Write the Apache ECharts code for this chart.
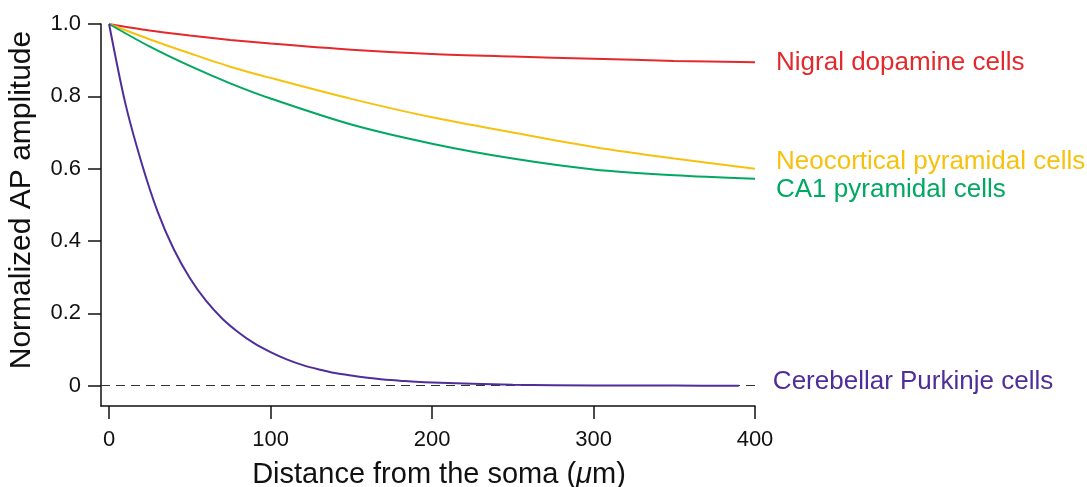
<!DOCTYPE html>
<html>
<head>
<meta charset="utf-8">
<script src="https://cdn.jsdelivr.net/npm/echarts@6/dist/echarts.min.js"></script>
<style>
html,body{margin:0;padding:0;background:#fff;}
#chart{width:1087px;height:487px;}
</style>
</head>
<body>
<div id="chart"></div>
<script>
// ---- data ----
var xTicks = [0, 100, 200, 300, 400];
var yTicks = [0, 0.2, 0.4, 0.6, 0.8, 1.0];

var nigralX = [0, 25, 50, 75, 100, 150, 200, 250, 300, 350, 400];
var nigralY = [1.0, 0.982, 0.968, 0.956, 0.946, 0.929, 0.917, 0.910, 0.904, 0.898, 0.894];

var neoX = [0, 25, 50, 75, 100, 150, 200, 250, 300, 350, 400];
var neoY = [1.0, 0.958, 0.919, 0.882, 0.851, 0.793, 0.742, 0.700, 0.660, 0.628, 0.600];

var ca1X = [0, 25, 50, 75, 100, 150, 200, 250, 300, 350, 400];
var ca1Y = [1.0, 0.938, 0.884, 0.836, 0.794, 0.722, 0.669, 0.628, 0.598, 0.582, 0.572];

var purkX = [0, 10, 20, 30, 40, 50, 60, 70, 80, 90, 100, 110, 120, 130, 140, 150, 160, 170, 180, 190, 200, 250, 300, 350, 390];
var purkY = [1.0, 0.782, 0.618, 0.482, 0.378, 0.298, 0.235, 0.186, 0.148, 0.117, 0.093, 0.073, 0.057, 0.045, 0.035, 0.028, 0.022, 0.017, 0.014, 0.011, 0.009, 0.003, 0.001, 0.0004, 0.0];

var names = ['Nigral dopamine cells', 'Neocortical pyramidal cells', 'CA1 pyramidal cells', 'Cerebellar Purkinje cells'];
var colors = ['#e4292d', '#f6c20f', '#00a862', '#4f2e9b'];

function pairs(xs, ys) { return xs.map(function (x, i) { return [x, ys[i]]; }); }

var FONT = '"Liberation Sans", Arial, Helvetica, sans-serif';

function mkSeries(idx, xs, ys, dist, dy, extra) {
  var s = {
    name: names[idx],
    type: 'line',
    data: pairs(xs, ys),
    smooth: 0.3,
    showSymbol: false,
    symbol: 'none',
    z: 3 + idx,
    lineStyle: { color: colors[idx], width: 2 },
    itemStyle: { color: colors[idx] },
    endLabel: {
      show: true,
      formatter: '{a}',
      color: colors[idx],
      fontSize: 26,
      fontFamily: FONT,
      distance: dist,
      offset: [0, dy]
    },
    emphasis: { disabled: true },
    silent: true
  };
  if (extra) for (var k in extra) s[k] = extra[k];
  return s;
}

var chart = echarts.init(document.getElementById('chart'), null, { renderer: 'canvas' });

var option = {
  animation: false,
  backgroundColor: '#fff',
  grid: { left: 101, right: 332, top: 24, bottom: 81, containLabel: false, outerBoundsMode: 'none' },
  xAxis: {
    type: 'value',
    min: -5,
    max: 400,
    name: '{n|Distance from the soma (}{i|\u03bc}{n|m)}',
    nameLocation: 'middle',
    nameGap: 54,
    nameTextStyle: {
      fontSize: 29, fontFamily: FONT, color: '#111', padding: [0, 0, 0, 22],
      rich: {
        n: { fontSize: 29, fontFamily: FONT, color: '#111' },
        i: { fontSize: 29, fontFamily: FONT, color: '#111', fontStyle: 'italic' }
      }
    },
    axisLine: { show: true, onZero: false, lineStyle: { color: '#111', width: 1.5 } },
    axisTick: { show: true, length: 13, customValues: xTicks, lineStyle: { color: '#111', width: 1.5 } },
    axisLabel: { customValues: xTicks, fontSize: 22, fontFamily: FONT, color: '#111', margin: 23 },
    splitLine: { show: false }
  },
  yAxis: {
    type: 'value',
    min: -0.056,
    max: 1.0,
    name: 'Normalized AP amplitude',
    nameLocation: 'middle',
    nameGap: 64,
    nameTextStyle: { fontSize: 30, fontFamily: FONT, color: '#111', padding: [0, 0, 0, 30] },
    axisLine: { show: true, onZero: false, lineStyle: { color: '#111', width: 1.5 } },
    axisTick: { show: true, length: 13, customValues: yTicks, lineStyle: { color: '#111', width: 1.5 } },
    axisLabel: {
      customValues: yTicks,
      fontSize: 22, fontFamily: FONT, color: '#111', margin: 20,
      formatter: function (v) { return Math.abs(v) < 1e-9 ? '0' : v.toFixed(1); }
    },
    splitLine: { show: false }
  },
  series: [
    mkSeries(0, nigralX, nigralY, 21, 0, {
      markLine: {
        silent: true,
        symbol: ['none', 'none'],
        z: 1,
        label: { show: false },
        lineStyle: { color: '#333', width: 1, type: [9, 6] },
        data: [{ yAxis: 0 }]
      }
    }),
    mkSeries(1, neoX, neoY, 21, -7),
    mkSeries(2, ca1X, ca1Y, 21, 11),
    mkSeries(3, purkX, purkY, 34, -4)
  ]
};
chart.setOption(option);
</script>
</body>
</html>
